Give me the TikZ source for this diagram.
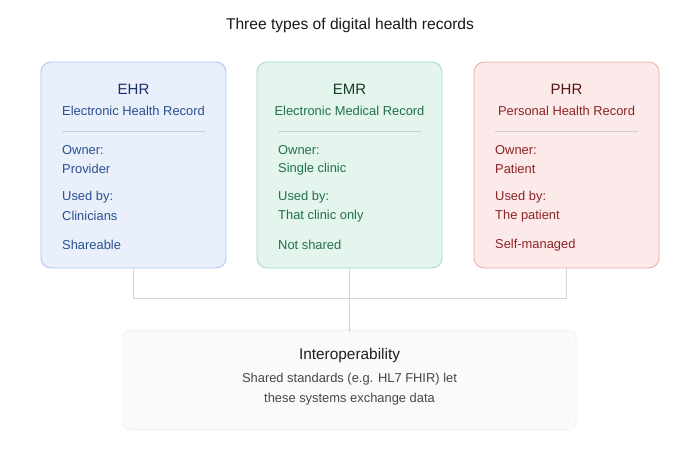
\documentclass[tikz,border=0pt]{standalone}
\usepackage{fontspec}
\setmainfont{Liberation Sans}
\usetikzlibrary{arrows.meta}
\definecolor{ehrfill}{HTML}{E9F0FC}
\definecolor{ehrdraw}{HTML}{A9C3F2}
\definecolor{ehrtext}{HTML}{2A4F8F}
\definecolor{ehrhead}{HTML}{1B2F66}
\definecolor{emrfill}{HTML}{E3F5EC}
\definecolor{emrdraw}{HTML}{A3DABD}
\definecolor{emrtext}{HTML}{22704A}
\definecolor{emrhead}{HTML}{163D2A}
\definecolor{phrfill}{HTML}{FCE9E9}
\definecolor{phrdraw}{HTML}{EDAAAA}
\definecolor{phrtext}{HTML}{8E2424}
\definecolor{phrhead}{HTML}{5A1414}
\definecolor{divcol}{HTML}{CCCCD4}
\definecolor{linkcol}{HTML}{D4D4D8}
\definecolor{iofill}{HTML}{FCF9FA}
\definecolor{iodraw}{HTML}{F4F0F2}
\begin{document}
\begin{tikzpicture}[x=1pt,y=-1pt,
  card/.style={rounded corners=10pt, line width=0.8pt},
  headtxt/.style={font=\fontsize{15}{18}\selectfont, anchor=center, inner sep=0},
  subtxt/.style={font=\fontsize{12.9}{15}\selectfont, anchor=center, inner sep=0},
  bodytxt/.style={font=\fontsize{12.9}{15}\selectfont, anchor=west, inner sep=0},
  link/.style={draw=linkcol, line width=0.8pt}]
\useasboundingbox (0,0) rectangle (700,474);
\fill[white] (0,0) rectangle (700,474);

\node[font=\fontsize{15.6}{18}\selectfont, text=black!90, inner sep=0] (title) at (350,25) {Three types of digital health records};

% EHR
\draw[card, fill=ehrfill, draw=ehrdraw] (41,62) rectangle (226,268);
\node[inner sep=0, minimum width=185pt, minimum height=206pt] (ehr) at (133.5,165) {};
\node[headtxt, text=ehrhead] (ehrT) at (133.5,89) {EHR};
\node[subtxt, text=ehrtext] (ehrS) at (133.5,111) {Electronic Health Record};
\draw[divcol, line width=0.8pt] (62,131) -- (205,131);
\node[bodytxt, text=ehrtext] (ehr1) at (62,150) {Owner:};
\node[bodytxt, text=ehrtext] (ehr2) at (62,169) {Provider};
\node[bodytxt, text=ehrtext] (ehr3) at (62,197) {Used by:};
\node[bodytxt, text=ehrtext] (ehr4) at (62,216) {Clinicians};
\node[bodytxt, text=ehrtext] (ehr5) at (62,245) {Shareable};

% EMR
\draw[card, fill=emrfill, draw=emrdraw] (257,62) rectangle (442,268);
\node[inner sep=0, minimum width=185pt, minimum height=206pt] (emr) at (349.5,165) {};
\node[headtxt, text=emrhead] (emrT) at (349.5,89) {EMR};
\node[subtxt, text=emrtext] (emrS) at (349.5,111) {Electronic Medical Record};
\draw[divcol, line width=0.8pt] (278,131) -- (421,131);
\node[bodytxt, text=emrtext] (emr1) at (278,150) {Owner:};
\node[bodytxt, text=emrtext] (emr2) at (278,169) {Single clinic};
\node[bodytxt, text=emrtext] (emr3) at (278,197) {Used by:};
\node[bodytxt, text=emrtext] (emr4) at (278,216) {That clinic only};
\node[bodytxt, text=emrtext] (emr5) at (278,245) {Not shared};

% PHR
\draw[card, fill=phrfill, draw=phrdraw] (474,62) rectangle (659,268);
\node[inner sep=0, minimum width=185pt, minimum height=206pt] (phr) at (566.5,165) {};
\node[headtxt, text=phrhead] (phrT) at (566.5,89) {PHR};
\node[subtxt, text=phrtext] (phrS) at (566.5,111) {Personal Health Record};
\draw[divcol, line width=0.8pt] (495,131) -- (638,131);
\node[bodytxt, text=phrtext] (phr1) at (495,150) {Owner:};
\node[bodytxt, text=phrtext] (phr2) at (495,169) {Patient};
\node[bodytxt, text=phrtext] (phr3) at (495,197) {Used by:};
\node[bodytxt, text=phrtext] (phr4) at (495,216) {The patient};
\node[bodytxt, text=phrtext] (phr5) at (495,245) {Self-managed};

% Interoperability
\draw[rounded corners=8pt, fill=iofill, draw=iodraw, line width=0.6pt] (123,330) rectangle (576,430);
\node[inner sep=0, minimum width=453pt, minimum height=100pt] (io) at (349.5,380) {};
\node[font=\fontsize{15.4}{18}\selectfont, text=black!88, inner sep=0] (ioT) at (349.5,356) {Interoperability};
\node[font=\fontsize{12.9}{15}\selectfont, text=black!72, inner sep=0] (ioA) at (349.5,379) {Shared standards (e.g. HL7 FHIR) let};
\node[font=\fontsize{12.9}{15}\selectfont, text=black!72, inner sep=0] (ioB) at (349.5,399) {these systems exchange data};

% connectors
\coordinate (j1) at (133.5,298);
\coordinate (j2) at (349.5,298);
\coordinate (j3) at (566.5,298);
\draw[link] (ehr.south) -- (j1) -- (j3) -- (phr.south);
\draw[link] (emr.south) -- (j2);
\draw[link, -{Stealth[length=3pt,width=2.5pt]}] (j2) -- ([yshift=-2pt]io.north);
\end{tikzpicture}
\end{document}
